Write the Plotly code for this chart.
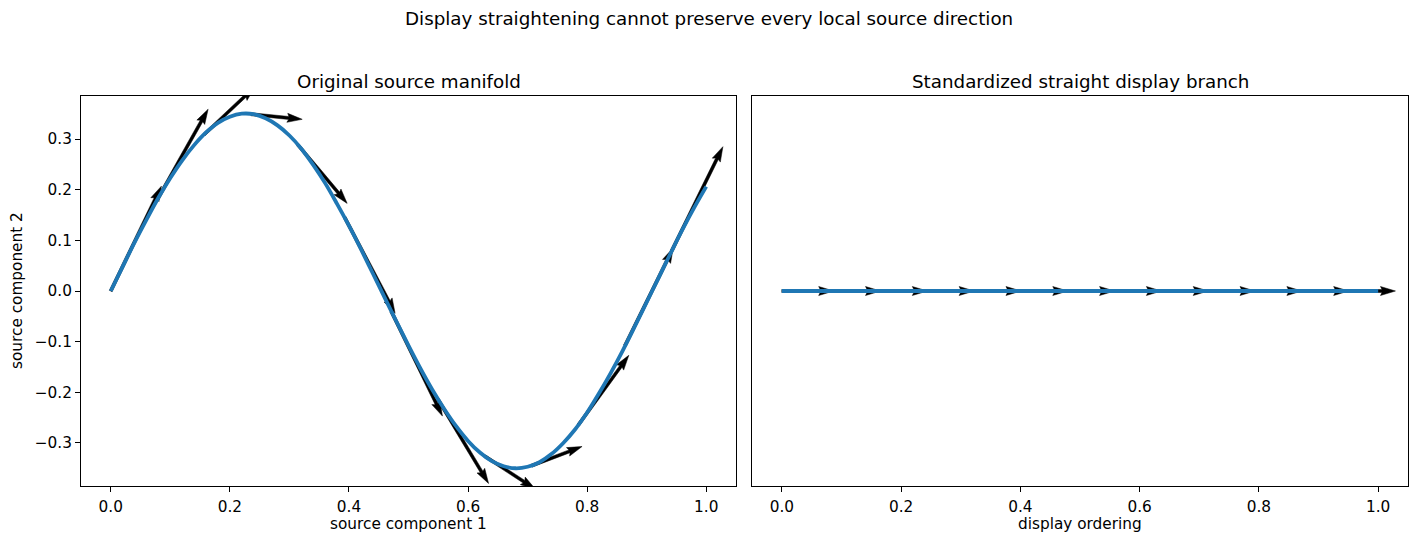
import math
import plotly.graph_objects as go

# ---------------- data ----------------
curve_x = [0.00, 0.02, 0.04, 0.06, 0.08, 0.10, 0.12, 0.14, 0.16, 0.18,
           0.20, 0.22, 0.24, 0.26, 0.28, 0.30, 0.32, 0.34, 0.36, 0.38,
           0.40, 0.42, 0.44, 0.46, 0.48, 0.50, 0.52, 0.54, 0.56, 0.58,
           0.60, 0.62, 0.64, 0.66, 0.68, 0.70, 0.72, 0.74, 0.76, 0.78,
           0.80, 0.82, 0.84, 0.86, 0.88, 0.90, 0.92, 0.94, 0.96, 0.98, 1.00]
curve_y = [0.000, 0.048, 0.096, 0.141, 0.184, 0.223, 0.258, 0.288, 0.313, 0.332,
           0.344, 0.350, 0.349, 0.341, 0.327, 0.307, 0.281, 0.249, 0.213, 0.172,
           0.129, 0.083, 0.035, -0.013, -0.061, -0.108, -0.153, -0.195, -0.233, -0.267,
           -0.296, -0.319, -0.336, -0.346, -0.350, -0.347, -0.338, -0.322, -0.300, -0.273,
           -0.240, -0.202, -0.161, -0.117, -0.070, -0.022, 0.026, 0.074, 0.121, 0.165, 0.206]

# source direction arrows (tail on the curve, vector in data units)
src_tail_x = [0.0, 0.0785, 0.157, 0.2355, 0.314, 0.3925, 0.471, 0.5495, 0.628, 0.7065, 0.785, 0.8635, 0.942]
src_tail_y = [0.0, 0.181, 0.309, 0.349, 0.289, 0.146, -0.040, -0.214, -0.326, -0.345, -0.265, -0.108, 0.079]
src_dx = [0.085, 0.085, 0.085, 0.086, 0.083, 0.085, 0.086, 0.085, 0.085, 0.085, 0.085, 0.081, 0.086]
src_dy = [0.207, 0.178, 0.094, -0.010, -0.116, -0.190, -0.207, -0.166, -0.065, 0.038, 0.138, 0.193, 0.206]

# straightened display branch
disp_x = [0.0, 1.0]
disp_y = [0.0, 0.0]
disp_tail_x = [0.0, 0.0785, 0.157, 0.2355, 0.314, 0.3925, 0.471, 0.5495, 0.628, 0.7065, 0.785, 0.8635, 0.942]
disp_tail_y = [0.0] * 13
disp_dx = [0.087] * 13
disp_dy = [0.0] * 13

x_ticks = [0.0, 0.2, 0.4, 0.6, 0.8, 1.0]
x_ticktext = ["0.0", "0.2", "0.4", "0.6", "0.8", "1.0"]
y_ticks = [-0.3, -0.2, -0.1, 0.0, 0.1, 0.2, 0.3]
y_ticktext = ["\u22120.3", "\u22120.2", "\u22120.1", "0.0", "0.1", "0.2", "0.3"]

# ---------------- layout geometry ----------------
W, H = 1418, 544
L_dom = [81 / W, 736 / W]
R_dom = [752 / W, 1408 / W]
Y_dom = [1 - 486 / H, 1 - 96 / H]
XR = [-0.05, 1.05]
YR_L = [-0.385, 0.385]
YR_R = [-0.055, 0.055]

plot_w_L = (L_dom[1] - L_dom[0]) * W
plot_w_R = (R_dom[1] - R_dom[0]) * W
plot_h = (Y_dom[1] - Y_dom[0]) * H


def arrow_polys(tx, ty, dxs, dys, sx, sy, w=3.0):
    """Matplotlib-quiver-like arrow polygons, built in pixel space."""
    xs, ys = [], []
    for x0, y0, dx, dy in zip(tx, ty, dxs, dys):
        px, py = dx * sx, dy * sy
        L = math.hypot(px, py)
        ux, uy = px / L, py / L
        nx, ny = -uy, ux
        pts = [(0, -w / 2), (L - 4.5 * w, -w / 2), (L - 5 * w, -1.5 * w), (L, 0),
               (L - 5 * w, 1.5 * w), (L - 4.5 * w, w / 2), (0, w / 2), (0, -w / 2)]
        for a, c in pts:
            xs.append(x0 + (a * ux + c * nx) / sx)
            ys.append(y0 + (a * uy + c * ny) / sy)
        xs.append(None)
        ys.append(None)
    return xs, ys


sxL = plot_w_L / (XR[1] - XR[0])
syL = plot_h / (YR_L[1] - YR_L[0])
sxR = plot_w_R / (XR[1] - XR[0])
syR = plot_h / (YR_R[1] - YR_R[0])

ax_L, ay_L = arrow_polys(src_tail_x, src_tail_y, src_dx, src_dy, sxL, syL)
ax_R, ay_R = arrow_polys(disp_tail_x, disp_tail_y, disp_dx, disp_dy, sxR, syR)

BLUE = "#1f77b4"
FONT = "DejaVu Sans"
TICK_SIZE = 15.3
TITLE_SIZE = 18.3

fig = go.Figure()
fig.add_trace(go.Scatter(x=ax_L, y=ay_L, mode="lines", fill="toself", fillcolor="black",
                         line=dict(color="black", width=0.5), xaxis="x", yaxis="y",
                         hoverinfo="skip", showlegend=False))
fig.add_trace(go.Scatter(x=curve_x, y=curve_y, mode="lines", line=dict(color=BLUE, width=3.8, shape="spline"),
                         xaxis="x", yaxis="y", showlegend=False))
fig.add_trace(go.Scatter(x=ax_R, y=ay_R, mode="lines", fill="toself", fillcolor="black",
                         line=dict(color="black", width=0.5), xaxis="x2", yaxis="y2",
                         hoverinfo="skip", showlegend=False))
fig.add_trace(go.Scatter(x=disp_x, y=disp_y, mode="lines", line=dict(color=BLUE, width=3.8),
                         xaxis="x2", yaxis="y2", showlegend=False))

axis_common = dict(showline=True, linecolor="black", linewidth=1, mirror=True,
                   showgrid=False, zeroline=False, ticks="outside", ticklen=5,
                   tickwidth=1, tickcolor="black",
                   tickfont=dict(family=FONT, size=TICK_SIZE, color="black"))

fig.update_layout(
    width=W, height=H,
    margin=dict(l=0, r=0, t=0, b=0),
    paper_bgcolor="white", plot_bgcolor="white",
    showlegend=False,
    xaxis=dict(domain=L_dom, range=XR, anchor="y", tickvals=x_ticks, ticktext=x_ticktext,
               ticklabelstandoff=2, **axis_common),
    yaxis=dict(domain=Y_dom, range=YR_L, anchor="x", tickvals=y_ticks, ticktext=y_ticktext, **axis_common),
    xaxis2=dict(domain=R_dom, range=XR, anchor="y2", tickvals=x_ticks, ticktext=x_ticktext,
                ticklabelstandoff=2, **axis_common),
    yaxis2=dict(domain=Y_dom, range=YR_R, anchor="x2", showline=True, linecolor="black", linewidth=1,
                mirror=True, showgrid=False, zeroline=False, ticks="", showticklabels=False),
)

ann = []
ann.append(dict(text="Display straightening cannot preserve every local source direction",
                x=0.5, y=1 - 19 / H, xref="paper", yref="paper", showarrow=False,
                xanchor="center", yanchor="middle", font=dict(family=FONT, size=TITLE_SIZE, color="black")))
ann.append(dict(text="Original source manifold", x=(L_dom[0] + L_dom[1]) / 2, y=1 - 81 / H,
                xref="paper", yref="paper", showarrow=False, xanchor="center", yanchor="middle",
                font=dict(family=FONT, size=TITLE_SIZE, color="black")))
ann.append(dict(text="Standardized straight display branch", x=(R_dom[0] + R_dom[1]) / 2, y=1 - 81 / H,
                xref="paper", yref="paper", showarrow=False, xanchor="center", yanchor="middle",
                font=dict(family=FONT, size=TITLE_SIZE, color="black")))
ann.append(dict(text="source component 1", x=(L_dom[0] + L_dom[1]) / 2, y=1 - 524 / H,
                xref="paper", yref="paper", showarrow=False, xanchor="center", yanchor="middle",
                font=dict(family=FONT, size=TICK_SIZE, color="black")))
ann.append(dict(text="display ordering", x=(R_dom[0] + R_dom[1]) / 2, y=1 - 524 / H,
                xref="paper", yref="paper", showarrow=False, xanchor="center", yanchor="middle",
                font=dict(family=FONT, size=TICK_SIZE, color="black")))
ann.append(dict(text="source component 2", x=17 / W, y=1 - 291 / H, textangle=-90,
                xref="paper", yref="paper", showarrow=False, xanchor="center", yanchor="middle",
                font=dict(family=FONT, size=TICK_SIZE, color="black")))
fig.update_layout(annotations=ann)

fig.write_html("out.html")
